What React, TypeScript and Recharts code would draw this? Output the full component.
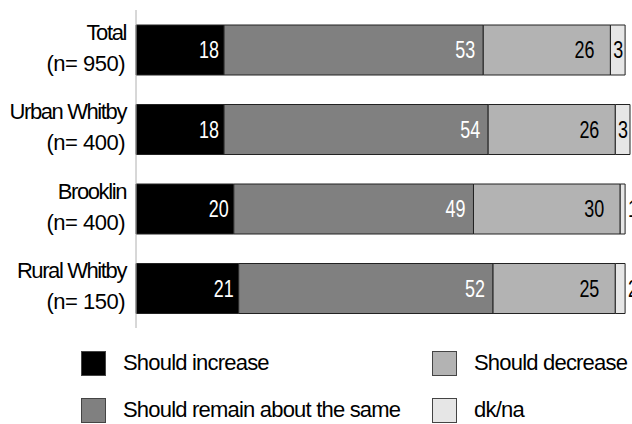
import { BarChart, Bar, XAxis, YAxis, LabelList, Legend } from 'recharts';

const categories = ['Total', 'Urban Whitby', 'Brooklin', 'Rural Whitby'];
const sampleSizes = ['(n= 950)', '(n= 400)', '(n= 400)', '(n= 150)'];
const increase = [18, 18, 20, 21];
const same = [53, 54, 49, 52];
const decrease = [26, 26, 30, 25];
const dkna = [3, 3, 1, 2];

const SERIES = [
  { key: 'increase', name: 'Should increase', fill: '#000000', text: '#ffffff', pad: 5 },
  { key: 'same', name: 'Should remain about the same', fill: '#808080', text: '#ffffff', pad: 8 },
  { key: 'decrease', name: 'Should decrease', fill: '#b3b3b3', text: '#000000', pad: 16 },
  { key: 'dkna', name: 'dk/na', fill: '#e6e6e6', text: '#000000', pad: 2 },
];

const data = categories.map((name, i) => ({
  name,
  n: sampleSizes[i],
  increase: increase[i],
  same: same[i],
  decrease: decrease[i],
  dkna: dkna[i],
}));

const TEXT_FONT = '"Liberation Sans", Arial, sans-serif';

// numbers in the bars use a narrow face; squeeze Liberation Sans horizontally
const makeLabel = (color: string, pad: number, small: boolean) => (props: any) => {
  const { x, y, width, height, value } = props;
  const cy = y + height / 2;
  const outside = small && value < 3;
  const tx = outside ? x + width + 3 : x + width - pad;
  return (
    <text
      transform={`translate(${tx},${cy}) scale(0.78,1)`}
      x={0}
      y={0}
      dy="0.36em"
      textAnchor={outside ? 'start' : 'end'}
      fill={color}
      fontSize={23}
      fontFamily={TEXT_FONT}
    >
      {value}
    </text>
  );
};

const CategoryTick = (props: any) => {
  const { x, y, payload, index } = props;
  return (
    <text textAnchor="end" fontSize={22} fontFamily={TEXT_FONT} fill="#000">
      <tspan x={x + 1} y={y - 10} letterSpacing={-1.4}>{payload.value}</tspan>
      <tspan x={x} y={y + 21} letterSpacing={-0.5}>{sampleSizes[index]}</tspan>
    </text>
  );
};

const LegendBox = () => {
  const order = [SERIES[0], SERIES[2], SERIES[1], SERIES[3]];
  return (
    <div style={{ position: 'relative', width: 632, height: 72 }}>
      {order.map((s, i) => {
        const col = i % 2;
        const row = Math.floor(i / 2);
        return (
          <div
            key={s.key}
            style={{
              position: 'absolute',
              left: col === 0 ? 81 : 432,
              top: row * 47,
              display: 'flex',
              alignItems: 'center',
              height: 24,
            }}
          >
            <div
              style={{
                width: 23,
                height: 23,
                background: s.fill,
                border: '1px solid #444',
                marginRight: 17,
              }}
            />
            <span
              style={{
                fontFamily: TEXT_FONT,
                fontSize: 22,
                letterSpacing: -0.8,
                color: '#000',
                whiteSpace: 'nowrap',
              }}
            >
              {s.name}
            </span>
          </div>
        );
      })}
    </div>
  );
};

export default function App() {
  return (
    <div
      style={{
        position: 'absolute',
        left: 0,
        top: 0,
        width: 632,
        height: 424,
        overflow: 'hidden',
        background: '#fff',
      }}
    >
      <BarChart
        width={632}
        height={424}
        data={data}
        layout="vertical"
        margin={{ top: 10, right: 2, bottom: 96, left: 0 }}
      >
        <XAxis type="number" domain={[0, 101]} hide />
        <YAxis
          type="category"
          dataKey="name"
          width={136}
          axisLine={{ stroke: '#b0b0b0' }}
          tickLine={false}
          tickSize={0}
          tickMargin={11}
          tick={<CategoryTick />}
          interval={0}
        />
        <Legend
          layout="horizontal"
          verticalAlign="middle"
          align="center"
          wrapperStyle={{ left: 0, top: 351, width: 632, height: 72 }}
          content={<LegendBox />}
        />
        {SERIES.map((s) => (
          <Bar
            key={s.key}
            dataKey={s.key}
            name={s.name}
            stackId="a"
            fill={s.fill}
            stroke="#222"
            strokeWidth={1}
            barSize={50}
            isAnimationActive={false}
          >
            <LabelList dataKey={s.key} content={makeLabel(s.text, s.pad, s.key === 'dkna')} />
          </Bar>
        ))}
      </BarChart>
    </div>
  );
}
